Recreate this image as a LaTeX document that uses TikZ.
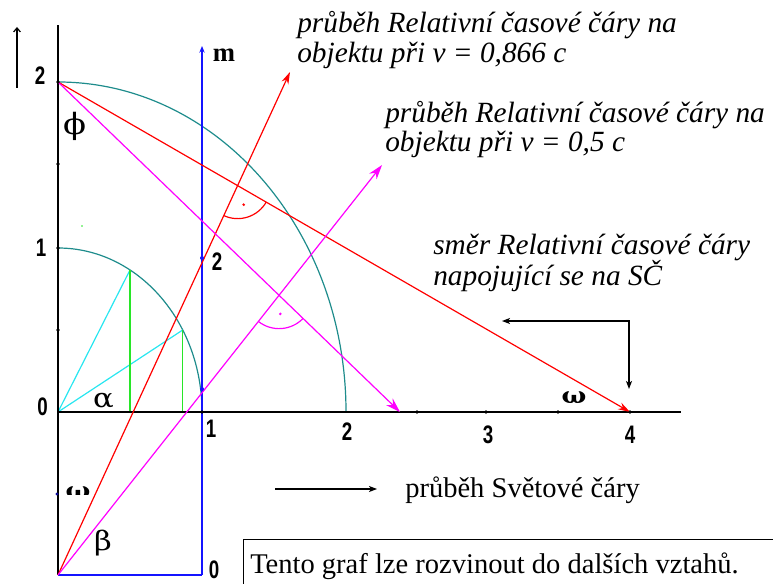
\documentclass[tikz,border=0pt]{standalone}
\usepackage{fontspec}
\setmainfont{Liberation Serif}
\newfontfamily\numfont[FakeStretch=0.74]{Liberation Sans}
\newfontfamily\grkfont[FakeStretch=1.15]{DejaVu Serif}
\usetikzlibrary{arrows.meta,calc}
\definecolor{tealc}{RGB}{30,140,140}
\definecolor{cyanc}{RGB}{40,230,240}
\definecolor{greenc}{RGB}{40,230,40}
\definecolor{magc}{RGB}{255,0,255}
\definecolor{redc}{RGB}{255,0,0}
\definecolor{bluec}{RGB}{20,20,255}
\begin{document}
\begin{tikzpicture}[x=0.75pt,y=0.75pt,
  axisline/.style={black,line width=1.2pt},
  thin line/.style={line width=0.9pt},
  lbl/.style={font=\fontsize{22}{23}\selectfont\itshape,inner sep=0,anchor=base west},
  txt/.style={font=\fontsize{21.4}{22}\selectfont,inner sep=0,anchor=base west},
  num/.style={font=\numfont\bfseries\fontsize{19}{19}\selectfont,inner sep=0},
  grk/.style={font=\grkfont\fontsize{20}{20}\selectfont,inner sep=0},
  dotb/.style={fill=black},
  bigtip/.style={-{Stealth[length=11pt,width=7pt]}},
  redtip/.style={-{Stealth[length=9pt,width=5.5pt]}},
  smalltip/.style={-{Stealth[length=6pt,width=4.5pt,inset=1.5pt]}}]
\useasboundingbox (0,0) rectangle (773,-584);
% key points (pixel coordinates, y negated)
\coordinate (O) at (58,-412);
\coordinate (Y2) at (58,-82);
\coordinate (Y1) at (58,-248);
\coordinate (Ym) at (58,-575);
\coordinate (Ytop) at (58,-25);
\coordinate (X1) at (202,-412);
\coordinate (X4) at (630,-412);
\coordinate (Xend) at (681,-412);
\coordinate (Bm) at (202,-575);
\coordinate (Btop) at (202,-46);
\coordinate (R1tip) at (290,-72);
\coordinate (M1tip) at (382,-165);
\coordinate (M2tip) at (400,-412);
\coordinate (P60) at (130,-270);
\coordinate (P30) at (182.7,-330);
\coordinate (F60) at (130,-412);
\coordinate (F30) at (182.7,-412);
% left small arrow
\coordinate (SAb) at (17,-88);
\coordinate (SAt) at (17,-27);
\draw[line width=0.9pt,-{Straight Barb[length=3pt,width=5pt]}] (SAb) -- (SAt);
% arcs
\draw[tealc,thin line] (Y1) arc[start angle=90,end angle=0,x radius=108pt,y radius=123pt];
\draw[tealc,thin line] (Y2) arc[start angle=90,end angle=0,x radius=216pt,y radius=247.5pt];
% cyan and green
\draw[cyanc,thin line] (O) -- (P60);
\draw[cyanc,thin line] (O) -- (P30);
\draw[greenc,thin line] (P60) -- (F60);
\draw[greenc,thin line] (P30) -- (F30);
\fill[greenc] (82,-226) circle (0.6pt);
% axes
\draw[axisline] (Ym) -- (Ytop);
\draw[axisline] (O) -- (Xend);
% blue
\draw[bluec,line width=1.3pt] (Ym) -- (Bm);
\draw[bluec,line width=1.3pt,-{Stealth[length=5pt,width=4pt]}] (Bm) -- (Btop);
% red lines
\draw[redc,thin line,redtip] (Ym) -- (R1tip);
\draw[redc,thin line,redtip] (Y2) -- (X4);
% magenta lines
\draw[magc,thin line,bigtip] (Ym) -- (M1tip);
\draw[magc,thin line,bigtip] (Y2) -- (M2tip);
% right angle marks
\coordinate (RI) at (intersection of Ym--R1tip and Y2--X4);
\coordinate (MI) at (intersection of Ym--M1tip and Y2--M2tip);
\draw[redc,thin line] ($(RI)+(-114.76:24.75pt)$) arc[start angle=-114.76,end angle=-29.98,radius=24.75pt];
\fill[redc] ($(RI)+(-72.4:15pt)$) circle (1.1pt);
\draw[magc,thin line] ($(MI)+(-128.32:25pt)$) arc[start angle=-128.32,end angle=-43.98,radius=25pt];
\fill[magc] ($(MI)+(-86.2:14pt)$) circle (1.1pt);
% dots
\foreach \p in {(58,-82),(58,-164),(58,-248),(58,-330),(202,-412),(417,-412),(486,-412),(558,-412),(630,-412)}
  \fill[dotb] \p circle (1.4pt);
\fill[bluec] (202,-258) circle (1.5pt);
\fill[bluec] (202,-389) circle (1.5pt);
\fill[bluec!60!black] (57,-494) circle (1.2pt);
% L arrow
\coordinate (La) at (502,-321);
\coordinate (Lc) at (629,-321);
\coordinate (Lb) at (629,-389);
\draw[line width=0.9pt,{Stealth[length=6pt,width=4.5pt,inset=1.5pt]}-{Stealth[length=6pt,width=4.5pt,inset=1.5pt]}] (La) -- (Lc) -- (Lb);
% bottom arrow
\coordinate (Ba) at (275,-489);
\coordinate (Bb) at (377,-489);
\draw[line width=0.9pt,smalltip] (Ba) -- (Bb);
% number labels
\node[num] (n2) at (40,-76) {2};
\node[num] (n1) at (41,-248) {1};
\node[num] (n0) at (42.5,-407) {0};
\node[num] (x1) at (211,-429) {1};
\node[num] (b0) at (214,-570) {0};
\node[num] (m2) at (217,-262) {2};
\node[num] (x2) at (347,-432) {2};
\node[num] (x3) at (488,-435) {3};
\node[num] (x4) at (630,-435) {4};
\node[font=\bfseries\fontsize{20}{20}\selectfont,inner sep=0] (mm) at (224,-55) {m};
% greek
\node[grk,font=\grkfont\fontsize{22}{22}\selectfont] (phi) at (74.5,-126.5) {ϕ};
\node[grk] (alpha) at (103.5,-401) {α};
\node[grk] (beta) at (103,-543) {β};
\node[grk,font=\grkfont\bfseries\fontsize{17}{17}\selectfont] (om1) at (574,-398) {ω};
\begin{scope}
\clip (60,-480) rectangle (100,-494);
\node[grk,font=\grkfont\bfseries\fontsize{17}{17}\selectfont] (om2) at (78,-493) {ω};
\end{scope}
% texts
\node[lbl] (t1a) at (297,-33) {průběh Relativní časové čáry na};
\node[lbl] (t1b) at (297,-63) {objektu při v = 0,866 c};
\node[lbl] (t2a) at (385,-123) {průběh Relativní časové čáry na};
\node[lbl] (t2b) at (385,-152) {objektu při v = 0,5 c};
\node[lbl] (t3a) at (433,-255) {směr Relativní časové čáry};
\node[lbl] (t3b) at (433,-285) {napojující se na SČ};
\node[txt] (t4) at (405,-497) {průběh Světové čáry};
\draw[line width=0.9pt] (243.5,-600) -- (243.5,-539.5) -- (800,-539.5);
\node[txt] (t5) at (250,-573) {Tento graf lze rozvinout do dalších vztahů.};
\end{tikzpicture}
\end{document}
